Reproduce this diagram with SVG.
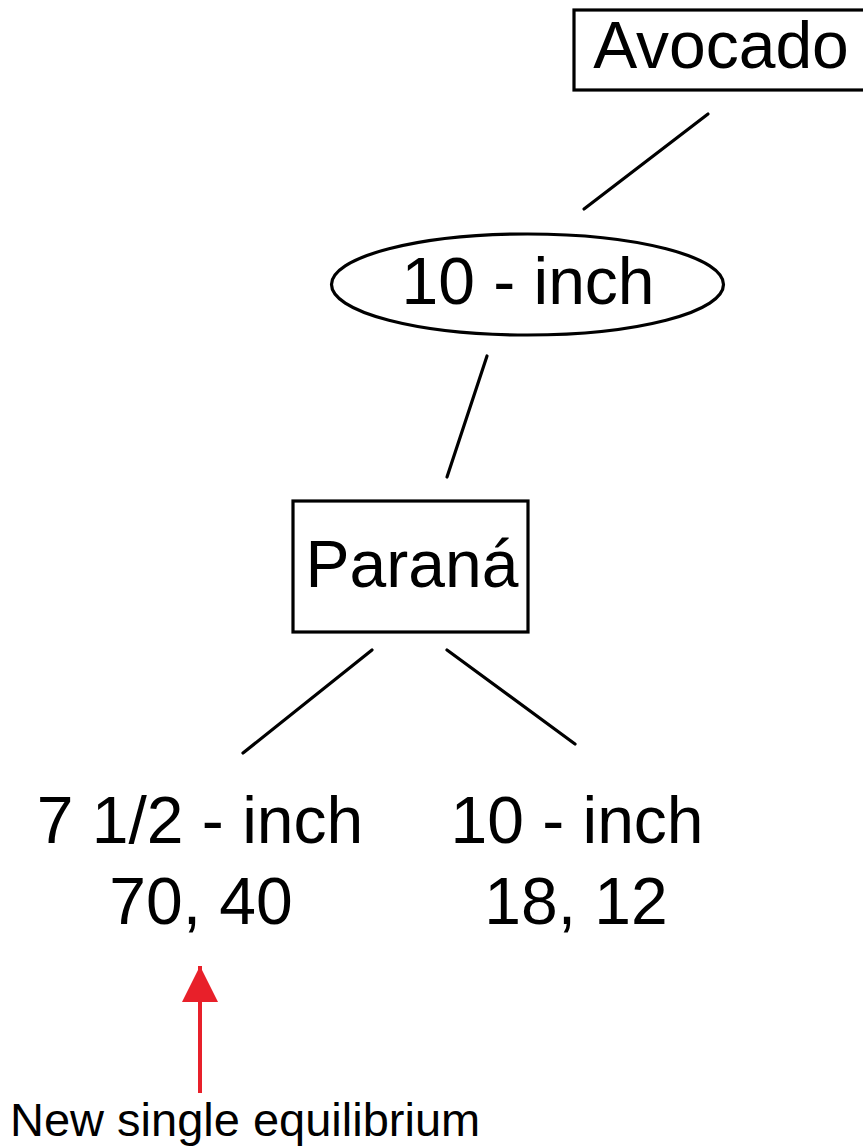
<svg xmlns="http://www.w3.org/2000/svg" width="863" height="1147" viewBox="0 0 863 1147">
  <style>
    .shape { fill: #ffffff; stroke: #000000; stroke-width: 3.2; }
    .edge { stroke: #000000; stroke-width: 3.2; stroke-linecap: round; fill: none; }
    .label { font-family: "Liberation Sans", Arial, sans-serif; font-size: 66px; fill: #000000; text-anchor: middle; }
    .note { font-family: "Liberation Sans", Arial, sans-serif; font-size: 47px; fill: #000000; }
  </style>
  <defs>
    <marker id="redHead" viewBox="0 0 10 10" refX="10" refY="5" markerWidth="9" markerHeight="9" markerUnits="strokeWidth" orient="auto">
      <path d="M0,0 L10,5 L0,10 z" fill="#e8202a"/>
    </marker>
  </defs>
  <rect width="863" height="1147" fill="#ffffff"/>

  <g id="connectors">
    <line class="edge" x1="708" y1="114" x2="584" y2="209"/>
    <line class="edge" x1="487" y1="356" x2="447" y2="477"/>
    <line class="edge" x1="372" y1="650" x2="243" y2="753"/>
    <line class="edge" x1="447" y1="650" x2="575" y2="744"/>
  </g>

  <g id="avocado">
    <rect class="shape" x="574" y="10" width="300" height="80"/>
    <text class="label" x="721" y="68">Avocado</text>
  </g>

  <g id="ten-inch-choice">
    <ellipse class="shape" cx="527.5" cy="284.5" rx="196" ry="50.5"/>
    <text class="label" x="528" y="304">10 - inch</text>
  </g>

  <g id="parana">
    <rect class="shape" x="293" y="501" width="235" height="131"/>
    <text class="label" x="412" y="587">Paraná</text>
  </g>

  <g id="outcome-seven-half">
    <text class="label" x="200" y="843">7 1/2 - inch</text>
    <text class="label" x="201" y="924">70, 40</text>
  </g>

  <g id="outcome-ten">
    <text class="label" x="577" y="843">10 - inch</text>
    <text class="label" x="576" y="924">18, 12</text>
  </g>

  <g id="equilibrium-note">
    <line x1="200" y1="1093" x2="200" y2="966" stroke="#e8202a" stroke-width="4" marker-end="url(#redHead)"/>
    <text class="note" x="10" y="1136">New single equilibrium</text>
  </g>
</svg>
